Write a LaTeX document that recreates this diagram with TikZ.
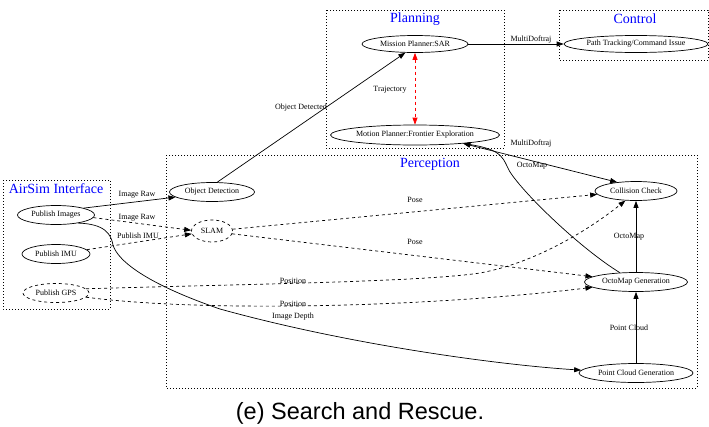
\documentclass[tikz,border=0pt]{standalone}
\usepackage{fontspec}
\setmainfont{Liberation Serif}
\newfontfamily\capfont{Liberation Sans}
\usetikzlibrary{shapes.geometric,arrows.meta}
\begin{document}
\begin{tikzpicture}[x=1pt,y=-1pt,
  nd/.style={ellipse,draw,line width=0.7pt,inner sep=0pt,font=\fontsize{8}{9}\selectfont,minimum height=19pt},
  dnd/.style={nd,dashed},
  cl/.style={draw,line width=0.6pt,dash pattern=on 0.8pt off 2.2pt},
  cltitle/.style={text=blue,inner sep=0pt,font=\fontsize{14}{16}\selectfont},
  lbl/.style={inner sep=0pt,font=\fontsize{8}{9}\selectfont},
  ar/.style={line width=0.7pt,-{Triangle[length=7pt,width=5pt]}},
  dar/.style={ar,dashed},
  bar/.style={line width=0.7pt,{Triangle[length=7pt,width=5pt]}-{Triangle[length=7pt,width=5pt]}},
]
\useasboundingbox (0,0) rectangle (709,426);

% clusters
\draw[cl] (326,10) rectangle (504,148);
\draw[cl] (559,10) rectangle (708,60);
\draw[cl] (166,155) rectangle (697,388);
\draw[cl] (3,180) rectangle (110,309);
\node[cltitle] (tplan) at (415,19) {Planning};
\node[cltitle] (tctrl) at (635,19) {Control};
\node[cltitle] (tperc) at (430,164) {Perception};
\node[cltitle] (tair) at (56,189) {AirSim Interface};

% nodes
\node[nd,minimum width=106pt,minimum height=17pt] (msn) at (415,44) {Mission Planner:SAR};
\node[nd,minimum width=144pt,minimum height=17pt] (pth) at (636,44) {Path Tracking/Command Issue};
\node[nd,minimum width=169pt,minimum height=20pt] (mot) at (415,135) {Motion Planner:Frontier Exploration};
\node[nd,minimum width=85pt] (obj) at (212,192) {Object Detection};
\node[dnd,minimum width=41pt,minimum height=22pt] (slam) at (212,231) {SLAM};
\node[nd,minimum width=77pt] (pimg) at (56,215) {Publish Images};
\node[nd,minimum width=68pt] (pimu) at (56,254) {Publish IMU};
\node[dnd,minimum width=66pt] (pgps) at (56,293) {Publish GPS};
\node[nd,minimum width=82pt] (cc) at (636,191) {Collision Check};
\node[nd,minimum width=103pt] (ogen) at (636,282) {OctoMap Generation};
\node[nd,minimum width=114pt] (pcg) at (636,373) {Point Cloud Generation};

% edges
\draw[ar] (msn) -- (pth);
\node[lbl] (l1) at (531,40) {MultiDoftraj};
\draw[bar,red,dashed] (msn) -- (mot);
\node[lbl] (l2) at (390,90) {Trajectory};
\draw[ar] (obj.62) -- (msn.222);
\node[lbl] (l3) at (301,108) {Object Detected};
\draw[bar] (mot.-10) -- (cc.155);
\node[lbl] (l4) at (531,144) {MultiDoftraj};
\draw[ar] (ogen.150) .. controls (580,248) and (525,195) .. (510,172)
  .. controls (503,160) and (505,150) .. (mot.-10);
\node[lbl] (l5) at (532,166) {OctoMap};
\draw[ar] (pimg.14) -- (obj.188);
\node[lbl] (l6) at (137,195) {Image Raw};
\draw[dar] (pimg.-4) -- (slam.178);
\node[lbl] (l7) at (137,218) {Image Raw};
\draw[dar] (pimu.8) -- (slam.188);
\node[lbl] (l8) at (138,236) {Publish IMU};
\draw[ar] (pimg.-20) .. controls (105,224) and (111,234) .. (113,245)
  .. controls (118,262) and (150,285) .. (220,309)
  .. controls (350,345) and (500,365) .. (pcg.177);
\node[lbl] (l9) at (293,317) {Image Depth};
\draw[dar] (slam.5) -- (cc.185);
\node[lbl] (l10) at (415,200) {Pose};
\draw[dar] (slam.-8) -- (ogen.173);
\node[lbl] (l11) at (415,242) {Pose};
\draw[dar] (pgps.8) .. controls (250,284) and (420,282) .. (480,273)
  .. controls (540,262) and (595,225) .. (cc.222);
\node[lbl] (l12) at (293,281) {Position};
\draw[dar] (pgps.-8) .. controls (200,312) and (420,308) .. (ogen.187);
\node[lbl] (l13) at (293,304) {Position};
\draw[ar] (ogen) -- (cc);
\node[lbl] (l14) at (629,237) {OctoMap};
\draw[ar] (pcg) -- (ogen);
\node[lbl] (l15) at (629,328) {Point Cloud};

% caption
\node[inner sep=0pt,font=\capfont\fontsize{23.5}{26}\selectfont] (cap) at (360,413) {(e) Search and Rescue.};
\end{tikzpicture}
\end{document}
